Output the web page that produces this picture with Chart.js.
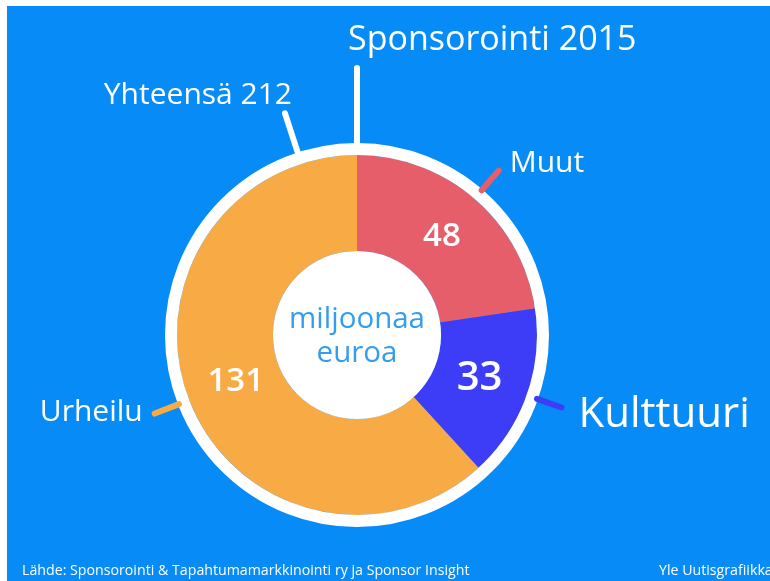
<!DOCTYPE html>
<html>
<head>
<meta charset="utf-8">
<script src="https://cdn.jsdelivr.net/npm/chart.js@4.4.1/dist/chart.umd.min.js"></script>
<style>
  html, body { margin: 0; padding: 0; background: #fff; }
  canvas { display: block; }
</style>
</head>
<body>
<canvas id="sponsorChart" width="770" height="581"></canvas>
<script>
const categories = ["Muut", "Kulttuuri", "Urheilu"];
const values = [48, 33, 131];
const sliceColors = ["#e55e6a", "#3d3df7", "#f8ab44"];
const titleText = "Sponsorointi 2015";
const totalLabel = "Yhteensä";
const centerLines = ["miljoonaa", "euroa"];
const sourceText = "Lähde: Sponsorointi & Tapahtumamarkkinointi ry ja Sponsor Insight";
const creditText = "Yle Uutisgrafiikka";

const FONT = "'Open Sans', 'Noto Sans', sans-serif";
const BG = "#078cf7";

// per-slice label look: value font size, name font size, name offset from connector end
const labelStyle = [
    { valSize: 33, nameSize: 30, dx: 11, dy: -7, align: "left" },
    { valSize: 40, nameSize: 42, dx: 17, dy: 7, align: "left" },
    { valSize: 33, nameSize: 30, dx: -12, dy: -1, align: "right" }
];

function pt(cx, cy, a, r) {
    return { x: cx + Math.cos(a) * r, y: cy + Math.sin(a) * r };
}

function line(ctx, p1, p2, color, w) {
    ctx.beginPath();
    ctx.moveTo(p1.x, p1.y);
    ctx.lineTo(p2.x, p2.y);
    ctx.strokeStyle = color;
    ctx.lineWidth = w;
    ctx.lineCap = "round";
    ctx.stroke();
}

const backdrop = {
    id: "backdrop",
    beforeDraw(chart) {
        const ctx = chart.ctx;
        ctx.save();
        ctx.fillStyle = "#fff";
        ctx.fillRect(0, 0, chart.width, chart.height);
        ctx.fillStyle = BG;
        ctx.fillRect(7, 6, chart.width - 7, chart.height - 6);
        ctx.restore();
    }
};

const decorations = {
    id: "decorations",
    afterDatasetsDraw(chart) {
        const ctx = chart.ctx;
        const meta = chart.getDatasetMeta(0);
        const first = meta.data[0];
        const cx = first.x, cy = first.y;
        const R = first.outerRadius, r = first.innerRadius;
        ctx.save();

        // white ring round the doughnut
        ctx.beginPath();
        ctx.arc(cx, cy, R + 6, 0, Math.PI * 2);
        ctx.strokeStyle = "#fff";
        ctx.lineWidth = 12;
        ctx.stroke();

        // white hole with unit text
        ctx.beginPath();
        ctx.arc(cx, cy, r, 0, Math.PI * 2);
        ctx.fillStyle = "#fff";
        ctx.fill();
        ctx.fillStyle = "#359ded";
        ctx.font = "29.5px " + FONT;
        ctx.textAlign = "center";
        ctx.textBaseline = "middle";
        ctx.fillText(centerLines[0], cx, cy - 15);
        ctx.fillText(centerLines[1], cx, cy + 19);

        // values, connectors and names
        meta.data.forEach((arc, i) => {
            const mid = (arc.startAngle + arc.endAngle) / 2;
            const st = labelStyle[i];
            const v = pt(cx, cy, mid, (R + r) / 2 - 2);
            ctx.fillStyle = "#fff";
            ctx.font = "600 " + st.valSize + "px " + FONT;
            ctx.textAlign = "center";
            ctx.textBaseline = "middle";
            ctx.fillText(String(values[i]), v.x, v.y);

            const a = pt(cx, cy, mid, R + 11);
            const b = pt(cx, cy, mid, R + 37);
            line(ctx, a, b, sliceColors[i], 6);

            ctx.fillStyle = "#fff";
            ctx.font = st.nameSize + "px " + FONT;
            ctx.textAlign = st.align;
            ctx.fillText(categories[i], b.x + st.dx, b.y + st.dy);
        });

        // title with its vertical stem
        const top = -Math.PI / 2;
        const t1 = pt(cx, cy, top, R + 12);
        const t2 = pt(cx, cy, top, R + 87);
        line(ctx, t1, t2, "#fff", 6);
        ctx.fillStyle = "#fff";
        ctx.font = "34px " + FONT;
        ctx.textAlign = "left";
        ctx.fillText(titleText, t2.x - 9, t2.y - 28);

        // total with its slanted stem
        const ta = top - 18 * Math.PI / 180;
        const s1 = pt(cx, cy, ta, R + 13);
        const s2 = pt(cx, cy, ta, R + 53);
        line(ctx, s1, s2, "#fff", 6);
        const total = values.reduce((s, x) => s + x, 0);
        ctx.font = "30px " + FONT;
        ctx.textAlign = "right";
        ctx.fillText(totalLabel + " " + total, s2.x + 7, s2.y - 18);

        // footer
        ctx.font = "14.2px " + FONT;
        ctx.textAlign = "left";
        ctx.textBaseline = "alphabetic";
        ctx.fillText(sourceText, 22, 575);
        ctx.fillText(creditText, 659, 575);

        ctx.restore();
    }
};

new Chart(document.getElementById("sponsorChart"), {
    type: "doughnut",
    data: {
        labels: categories,
        datasets: [{
            data: values,
            backgroundColor: sliceColors,
            borderWidth: 0,
            hoverOffset: 0
        }]
    },
    options: {
        responsive: false,
        animation: false,
        cutout: "46.7%",
        layout: { padding: { left: 177, right: 233, top: 155, bottom: 66 } },
        plugins: {
            legend: { display: false },
            tooltip: { enabled: false }
        }
    },
    plugins: [backdrop, decorations]
});
</script>
</body>
</html>
